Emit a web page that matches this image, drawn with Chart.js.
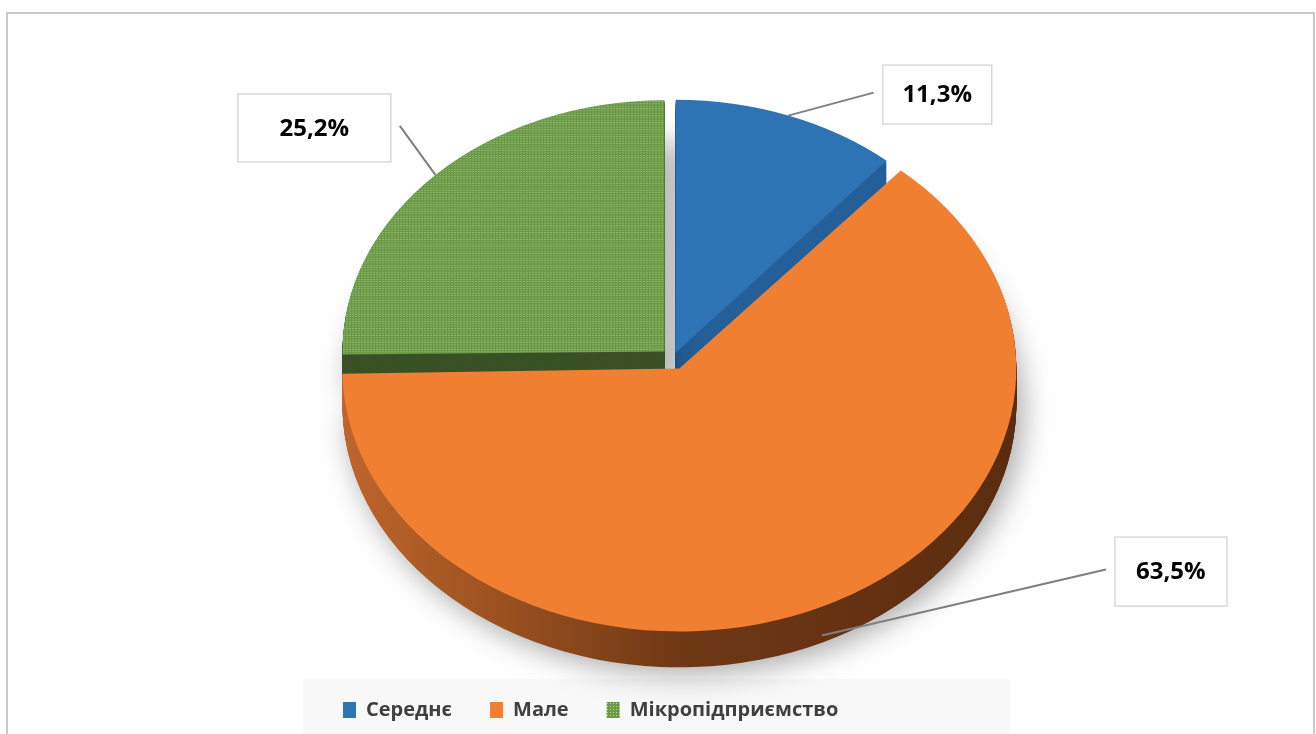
<!DOCTYPE html>
<html>
<head>
<meta charset="utf-8">
<script src="https://cdn.jsdelivr.net/npm/chart.js@4/dist/chart.umd.min.js"></script>
<style>
  html, body { margin: 0; padding: 0; background: #ffffff; overflow: hidden; }
  #wrap { position: absolute; left: 0; top: 0; width: 1316px; height: 734px; }
</style>
</head>
<body>
<div id="wrap"><canvas id="pieChart" width="1316" height="734"></canvas></div>
<script>
// --- Dados do gráfico ---
const categories = ['Середнє', 'Мале', 'Мікропідприємство'];
const shares = [11.3, 63.5, 25.2];

// formato com vírgula decimal, como no original
const shareLabels = shares.map(v => v.toFixed(1).replace('.', ',') + '%');

// --- Padrão pontilhado para a fatia verde ---
function makeDotPattern(base, dot) {
    const tile = document.createElement('canvas');
    tile.width = 3;
    tile.height = 3;
    const t = tile.getContext('2d');
    t.fillStyle = base;
    t.fillRect(0, 0, 3, 3);
    t.fillStyle = dot;
    t.fillRect(1, 1, 1, 1);
    return t.createPattern(tile, 'repeat');
}

const ctx = document.getElementById('pieChart').getContext('2d');
const greenPattern = makeDotPattern('#6a9a45', '#b9da9f');

// Desenha uma fatia com outra cor, usando a geometria do próprio elemento
function drawSliceAs(arc, c, fill) {
    const ghost = Object.create(arc);
    ghost.options = Object.assign({}, arc.options, { backgroundColor: fill, borderWidth: 0 });
    arc.draw.call(ghost, c);
}

// --- Plugin: moldura e faixa da legenda ---
const framePlugin = {
    id: 'frame',
    beforeDraw(chart) {
        const c = chart.ctx;
        c.save();
        c.fillStyle = '#ffffff';
        c.fillRect(0, 0, chart.width, chart.height);
        c.strokeStyle = '#c9c9c9';
        c.lineWidth = 2;
        c.strokeRect(7, 13, 1307, 800);
        const lg = chart.legend;
        c.fillStyle = '#f8f8f8';
        c.fillRect(lg.left - 2, lg.top + 17, 707, chart.height);
        c.restore();
    }
};

// --- Plugin: inclinação 3D (elipse + profundidade) ---
const tiltPlugin = {
    id: 'tilt3d',
    beforeDatasetsDraw(chart, args, opts) {
        const c = chart.ctx;
        const arcs = chart.getDatasetMeta(0).data;
        const cx = arcs[0].x, cy = arcs[0].y;
        c.save();
        c.translate(cx, cy);
        c.scale(1, opts.tilt);
        c.translate(-cx, -cy);

        const steps = Math.round(opts.depth / opts.tilt);
        const r = arcs[1].outerRadius + 20;
        const grad = c.createLinearGradient(cx - r, 0, cx + r, 0);
        grad.addColorStop(0, '#c0662c');
        grad.addColorStop(0.25, '#99501f');
        grad.addColorStop(0.5, '#6f3815');
        grad.addColorStop(1, '#5a2c0f');
        const sides = ['#245f99', grad, '#3a5126'];

        // fatias de trás primeiro, laranja (frente) por último
        [0, 2, 1].forEach(i => {
            for (let s = steps; s >= 1; s--) {
                c.save();
                c.translate(0, s);
                if (s === steps) {
                    c.shadowColor = 'rgba(0, 0, 0, 0.35)';
                    c.shadowBlur = 30;
                    c.shadowOffsetX = 6;
                    c.shadowOffsetY = 6;
                }
                drawSliceAs(arcs[i], c, sides[i]);
                c.restore();
            }
        });
    },
    afterDatasetsDraw(chart, args, opts) {
        const c = chart.ctx;
        c.restore(); // fecha a transformação aberta acima

        const arcs = chart.getDatasetMeta(0).data;
        const k = opts.tilt;
        c.save();
        c.font = 'bold 24px "Open Sans", "DejaVu Sans", sans-serif';
        c.textAlign = 'center';
        c.textBaseline = 'middle';

        arcs.forEach((arc, i) => {
            const lab = opts.labels[i];
            const mid = (arc.startAngle + arc.endAngle) / 2;
            const t = (arc.options.offset || 0) / 4;
            const fix = 1 - Math.sin(Math.min(Math.PI, arc.circumference));
            const rad = arc.outerRadius + t * fix;
            const ax = arc.x + Math.cos(mid) * (t + rad);
            const ay = arc.y + Math.sin(mid) * (t + rad) * k + opts.depth * lab.drop;

            const bx = ax + lab.dx, by = ay + lab.dy;
            const w = lab.w, h = lab.h;

            // linha de chamada
            const sx = bx > ax ? bx - w / 2 - 9 : bx + w / 2 + 9;
            c.strokeStyle = '#7f7f7f';
            c.lineWidth = 2;
            c.beginPath();
            c.moveTo(sx, by - 2);
            c.lineTo(ax, ay);
            c.stroke();

            // caixa do rótulo
            c.fillStyle = '#ffffff';
            c.fillRect(bx - w / 2, by - h / 2, w, h);
            c.strokeStyle = '#d9d9d9';
            c.lineWidth = 1.5;
            c.strokeRect(bx - w / 2, by - h / 2, w, h);

            c.fillStyle = '#000000';
            c.fillText(shareLabels[i], bx, by + 1);
        });
        c.restore();
    }
};

const pieChart = new Chart(ctx, {
    type: 'pie',
    data: {
        labels: categories,
        datasets: [{
            data: shares,
            backgroundColor: ['#2e74b5', '#f07f32', greenPattern],
            borderWidth: 0,
            offset: [28, 60, 48],
            clip: false
        }]
    },
    options: {
        responsive: false,
        animation: false,
        events: [],
        radius: 322,
        rotation: 0,
        layout: {
            padding: { top: 54, left: 305, right: 275, bottom: 4 }
        },
        plugins: {
            tooltip: { enabled: false },
            legend: {
                position: 'bottom',
                align: 'start',
                labels: {
                    boxWidth: 13,
                    boxHeight: 16,
                    padding: 38,
                    color: '#404040',
                    font: { family: '"Open Sans", "DejaVu Sans", sans-serif', size: 20, weight: 'bold' }
                }
            },
            tilt3d: {
                tilt: 0.78,
                depth: 36,
                labels: [
                    { dx: 149, dy: -21, w: 109, h: 59, drop: 0 },
                    { dx: 349, dy: -64, w: 112, h: 69, drop: 0.8 },
                    { dx: -121, dy: -47, w: 153, h: 68, drop: 0 }
                ]
            }
        }
    },
    plugins: [framePlugin, tiltPlugin]
});
</script>
</body>
</html>
